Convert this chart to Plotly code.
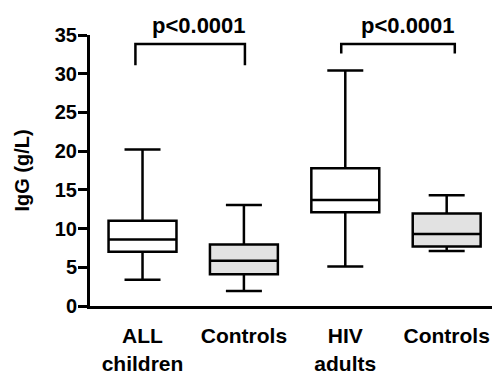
import plotly.graph_objects as go

categories = ["ALL<br>children", "Controls", "HIV<br>adults", "Controls"]
positions = [0, 1, 2, 3]
lower_whisker = [3.4, 1.95, 5.1, 7.1]
q1 = [7.0, 4.1, 12.1, 7.7]
median = [8.6, 5.85, 13.7, 9.3]
q3 = [11.0, 7.95, 17.8, 11.95]
upper_whisker = [20.2, 13.05, 30.4, 14.3]
fill_colors = ["white", "#e2e2e2", "white", "#e2e2e2"]

bracket_left = [-0.07, 1.96]
bracket_right = [1.01, 3.08]
bracket_top = [33.85, 33.85]
bracket_bottom = [31.1, 32.6]
p_labels = ["p<0.0001", "p<0.0001"]
p_label_x = [0.56, 2.62]
p_label_y = [34.4, 34.4]

FONT = "Liberation Sans, Arial, sans-serif"

fig = go.Figure()
for i in range(len(categories)):
    fig.add_trace(go.Box(
        x=[positions[i]],
        q1=[q1[i]], median=[median[i]], q3=[q3[i]],
        lowerfence=[lower_whisker[i]], upperfence=[upper_whisker[i]],
        fillcolor=fill_colors[i],
        line=dict(color="black", width=2.5),
        width=0.67, whiskerwidth=0.53,
        boxpoints=False, showlegend=False, hoverinfo="skip",
    ))

for i in range(len(bracket_left)):
    x0, x1, yt, yb = bracket_left[i], bracket_right[i], bracket_top[i], bracket_bottom[i]
    fig.add_shape(type="path",
                  path=f"M {x0},{yb} L {x0},{yt} L {x1},{yt} L {x1},{yb}",
                  line=dict(color="black", width=2.5), xref="x", yref="y")
    fig.add_annotation(x=p_label_x[i], y=p_label_y[i], text=p_labels[i],
                       showarrow=False, xanchor="center", yanchor="bottom",
                       font=dict(family=FONT, size=22, color="black", weight="bold"))

fig.update_layout(
    width=492, height=374,
    margin=dict(l=90, r=0, t=35, b=68),
    paper_bgcolor="white", plot_bgcolor="white",
    xaxis=dict(range=[-0.518, 3.447], tickvals=positions, ticktext=categories,
               showline=True, linewidth=3, linecolor="black", ticks="",
               ticklabelstandoff=9,
               showgrid=False, zeroline=False,
               tickfont=dict(family=FONT, size=21, color="black", weight="bold")),
    yaxis=dict(range=[0, 35], dtick=5, showline=True, linewidth=3, linecolor="black",
               ticks="outside", ticklen=9, tickwidth=3, tickcolor="black",
               ticklabelstandoff=-3,
               showgrid=False, zeroline=False,
               tickfont=dict(family=FONT, size=20, color="black", weight="bold"),
               title=dict(text="IgG (g/L)", standoff=20,
                          font=dict(family=FONT, size=20, color="black", weight="bold"))),
)

fig.write_html("out.html")
